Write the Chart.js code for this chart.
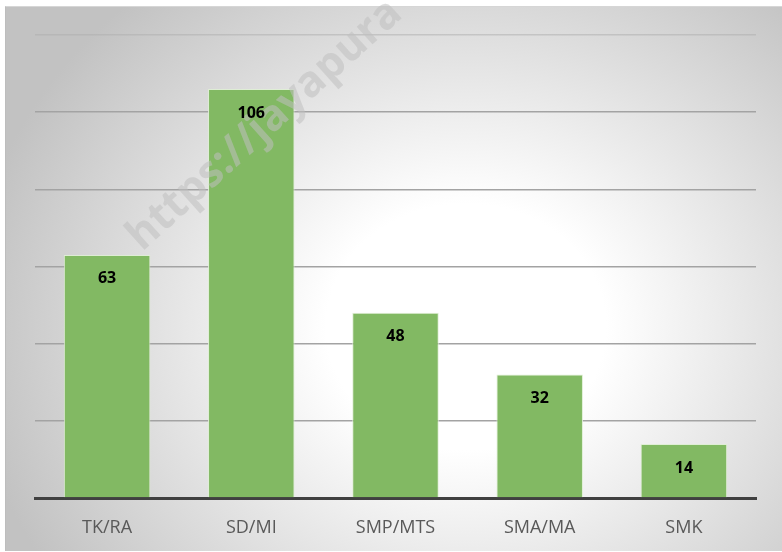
<!DOCTYPE html>
<html>
<head>
<meta charset="utf-8">
<script src="https://cdn.jsdelivr.net/npm/chart.js@4"></script>
<style>
  html, body { margin: 0; padding: 0; background: #ffffff; }
  body { width: 782px; height: 552px; position: relative; overflow: hidden; }
  #bg {
    position: absolute; left: 5px; top: 6px; width: 777px; height: 545px;
    background: radial-gradient(ellipse 500px 440px at 460px 320px, #ffffff 0%, #ffffff 28%, #c2c2c2 100%);
    border-left: 1px solid #bdbdbd; border-top: 1px solid #d6d6d6;
    box-sizing: border-box;
  }
  #wrap { position: absolute; left: 0; top: 0; width: 782px; height: 552px; }
</style>
</head>
<body>
<div id="bg"></div>
<div id="wrap"><canvas id="c" width="782" height="552"></canvas></div>
<script>
const categories = ["TK/RA", "SD/MI", "SMP/MTS", "SMA/MA", "SMK"];
const values = [63, 106, 48, 32, 14];
const yTicks = [0, 20, 40, 60, 80, 100, 120];
const watermarkText = "https://jayapura";

const watermark = {
  id: 'watermark',
  afterDatasetsDraw(chart) {
    const ctx = chart.ctx;
    ctx.save();
    ctx.translate(142, 252);
    ctx.rotate(-42 * Math.PI / 180);
    ctx.font = 'bold 43px "Open Sans"';
    ctx.fillStyle = 'rgba(192,192,192,0.55)';
    ctx.textBaseline = 'alphabetic';
    ctx.textAlign = 'left';
    ctx.fillText(watermarkText, 0, 0);
    ctx.restore();
  }
};

const barLabels = {
  id: 'barLabels',
  afterDraw(chart) {
    const ctx = chart.ctx;
    const meta = chart.getDatasetMeta(0);
    ctx.save();
    ctx.font = 'bold 16px "Open Sans"';
    ctx.fillStyle = '#000000';
    ctx.textAlign = 'center';
    ctx.textBaseline = 'middle';
    meta.data.forEach((bar, i) => {
      ctx.fillText(String(values[i]), bar.x, bar.y + 24);
    });
    ctx.restore();
  }
};

new Chart(document.getElementById('c'), {
  type: 'bar',
  data: {
    labels: categories,
    datasets: [{
      data: values,
      backgroundColor: '#82b963',
      borderColor: 'rgba(222,238,212,0.95)',
      borderWidth: 1,
      barPercentage: 0.6,
      categoryPercentage: 1.0
    }]
  },
  options: {
    responsive: false,
    animation: false,
    devicePixelRatio: 1,
    layout: { padding: { left: 35, right: 26, top: 35, bottom: 0 } },
    plugins: { legend: { display: false }, tooltip: { enabled: false } },
    scales: {
      x: {
        grid: { display: false, drawTicks: false },
        border: { display: true, color: '#404040', width: 3 },
        ticks: {
          color: '#595959',
          font: { family: '"Open Sans"', size: 18 },
          padding: 19
        },
        afterFit(scale) { scale.height = 54; }
      },
      y: {
        min: yTicks[0],
        max: yTicks[yTicks.length - 1],
        afterBuildTicks(scale) { scale.ticks = yTicks.map(v => ({ value: v })); },
        ticks: { display: false },
        border: { display: false },
        grid: {
          drawTicks: false,
          lineWidth: 1.5,
          color(ctx) {
            const v = ctx.tick ? ctx.tick.value : null;
            if (v === 0) return 'rgba(0,0,0,0)';
            if (v === 120) return 'rgba(175,175,175,0.55)';
            return '#a3a3a3';
          }
        },
        afterFit(scale) { scale.width = 0; }
      }
    }
  },
  plugins: [watermark, barLabels]
});
</script>
</body>
</html>
